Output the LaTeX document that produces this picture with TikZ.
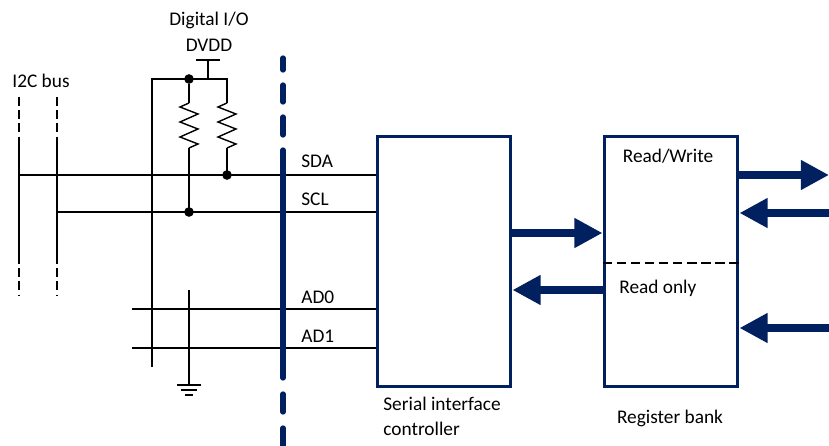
\documentclass[tikz,border=0pt]{standalone}
\usepackage{fontspec}
\setmainfont{Carlito}
\usetikzlibrary{arrows.meta}
\definecolor{darkblue}{RGB}{0,32,96}
\tikzset{
  wire/.style={line width=0.8pt},
  blockbox/.style={draw=darkblue, line width=1.7pt, minimum width=2.68cm, minimum height=5.02cm},
  busarrow/.style={darkblue, line width=4.5pt, -{Triangle[length=16pt,width=16pt]}},
  junction/.style={circle, fill, inner sep=0pt, minimum size=5.5pt},
  lbl/.style={font=\fontsize{11}{14}\selectfont, inner sep=0pt},
}
\begin{document}
\begin{tikzpicture}[x=0.02cm, y=-0.02cm]
  \useasboundingbox (0,0) rectangle (829,446);

  % I2C bus lines
  \node[lbl] (bus) at (41,81) {I2C bus};
  \foreach \x in {19,57} {
    \draw[wire, dashed, dash pattern=on 5pt off 2.5pt] (\x,97) -- (\x,137);
    \draw[wire, dashed, dash pattern=on 5pt off 2.5pt] (\x,255) -- (\x,295);
  }
  \draw[wire] (19,137) -- (19,255);
  \draw[wire] (57,137) -- (57,255);

  % Supply and pull-ups
  \node[lbl] (dio) at (209,20) {Digital I/O};
  \node[lbl] (dvdd) at (209,45) {DVDD};
  \draw[wire] (196,60) -- (220,60);
  \draw[wire] (208,60) -- (208,79);
  \draw[wire] (152,367) -- (152,79) -- (227,79) -- (227,103);
  \node[junction] (top) at (189,79) {};
  \draw[wire] (top) -- (189,103);

  \begin{scope}[shift={(189,103)}]
  \draw[wire] (0,0) -- (-9,4) -- (9,11) -- (-9,19) -- (9,26) -- (-9,34) -- (9,41) -- (0,45);
  \end{scope}
  \begin{scope}[shift={(227,103)}]
  \draw[wire] (0,0) -- (-9,4) -- (9,11) -- (-9,19) -- (9,26) -- (-9,34) -- (9,41) -- (0,45);
  \end{scope}

  % Serial interface controller and register bank
  \node[blockbox] (sic) at (444,261.5) {};
  \node[blockbox] (reg) at (671,261.5) {};
  \node[lbl, anchor=north west, align=left] (siclbl) at (383,397) {Serial interface\\controller};
  \node[lbl] (reglbl) at (670,418) {Register bank};
  \node[lbl] (rw) at (668,156) {Read/Write};
  \node[lbl, anchor=west] (ro) at (619,288) {Read only};
  \draw[line width=1.1pt, dashed, dash pattern=on 5.5pt off 2.5pt] (reg.west |- 0,263) -- (reg.east |- 0,263);

  % Signal lines
  \coordinate (sda0) at (19,175);
  \coordinate (scl0) at (57,212);
  \coordinate (ad0) at (132,309);
  \coordinate (ad1) at (132,348);
  \draw[wire] (sda0) -- (sic.west |- sda0);
  \draw[wire] (scl0) -- (sic.west |- scl0);
  \draw[wire] (ad0) -- (sic.west |- ad0);
  \draw[wire] (ad1) -- (sic.west |- ad1);
  \draw[wire] (189,148) -- (189,212);
  \draw[wire] (227,148) -- (227,175);
  \node[junction] (sdadot) at (227,175) {};
  \node[junction] (scldot) at (189,212) {};
  \node[lbl, anchor=west] (sda) at (301,161) {SDA};
  \node[lbl, anchor=west] (scl) at (301,199) {SCL};
  \node[lbl, anchor=west] (adl0) at (301,297) {AD0};
  \node[lbl, anchor=west] (adl1) at (301,336) {AD1};

  % Ground
  \draw[wire] (189,290) -- (189,385);
  \draw[wire] (177,385) -- (201,385);
  \draw[wire] (181,390) -- (197,390);
  \draw[wire] (185,395) -- (193,395);

  % Chip boundary
  \draw[darkblue, line width=3pt, line cap=round] (283,58) -- (283,70);
  \draw[darkblue, line width=3pt, line cap=round] (283,85) -- (283,102);
  \draw[darkblue, line width=3pt, line cap=round] (283,117) -- (283,135);
  \draw[darkblue, line width=3pt, line cap=round] (283,150) -- (283,378);
  \draw[darkblue, line width=3pt, line cap=round] (283,394) -- (283,412);
  \draw[darkblue, line width=3pt, line cap=round] (283,428) -- (283,446);

  % Bus arrows
  \draw[busarrow] (sic.east |- 0,233) -- (reg.west |- 0,233);
  \draw[busarrow] (reg.west |- 0,290) -- (sic.east |- 0,290);
  \coordinate (out1) at (829,175);
  \coordinate (in1) at (829,213);
  \coordinate (in2) at (829,328);
  \draw[busarrow] (reg.east |- out1) -- (out1);
  \draw[busarrow] (in1) -- (reg.east |- in1);
  \draw[busarrow] (in2) -- (reg.east |- in2);
\end{tikzpicture}
\end{document}
